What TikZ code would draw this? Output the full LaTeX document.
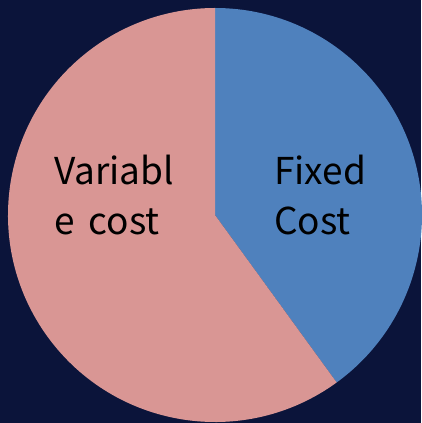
\documentclass[tikz,border=0pt]{standalone}
\usepackage{fontspec}
\usepackage{tikz}
\usetikzlibrary{positioning, calc}
\newfontfamily\pieFont[WordSpace=1.7]{Noto Sans CJK JP}
\definecolor{bgNavy}{RGB}{11, 20, 58}
\definecolor{fixedBlue}{RGB}{79, 129, 189}
\definecolor{varPink}{RGB}{217, 150, 148}
\tikzset{
    sliceLabel/.style={anchor=base west, inner sep=0pt, text=black,
        font=\pieFont\fontsize{37}{44}\selectfont}
}
\begin{document}
\begin{tikzpicture}[x=1pt, y=1pt]
            \fill[bgNavy] (0,0) rectangle (421,423);
            \useasboundingbox (0,0) rectangle (421,423);
            \coordinate (O) at (215,208);
            
            % slices
            \fill[fixedBlue] (O) -- ++(90:207) arc[start angle=90, end angle=-54, radius=207] -- cycle;
            \fill[varPink] (O) -- ++(-54:207) arc[start angle=-54, end angle=-270, radius=207] -- cycle;
            
            % labels
            \node[sliceLabel] (var1) at (54,238) {Variabl};
            \node[sliceLabel] (var2) at (54,188) {e cost};
            \node[sliceLabel] (fix1) at (274,238) {Fixed};
            \node[sliceLabel] (fix2) at (274,188) {Cost};
        \end{tikzpicture}
\end{document}
